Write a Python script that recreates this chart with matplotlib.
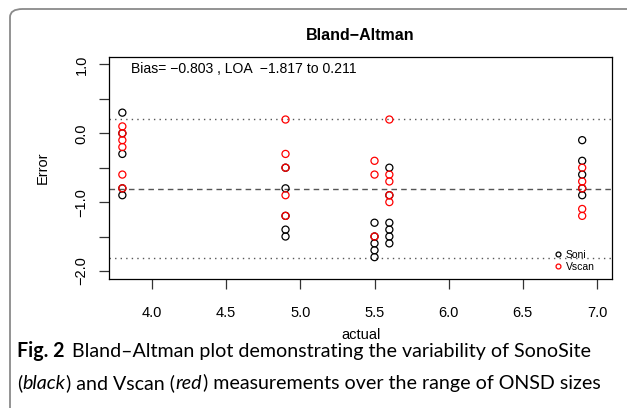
import numpy as np
import matplotlib.pyplot as plt
from matplotlib.patches import FancyBboxPatch
from matplotlib.lines import Line2D

# SonoSite (black) errors by actual ONSD
soni_x = [3.8, 3.8, 3.8, 3.8, 3.8,
          4.9, 4.9, 4.9, 4.9, 4.9,
          5.5, 5.5, 5.5, 5.5, 5.5,
          5.6, 5.6, 5.6, 5.6, 5.6, 5.6,
          6.9, 6.9, 6.9, 6.9, 6.9]
soni_y = [0.3, 0.0, -0.3, -0.8, -0.9,
          -0.5, -0.8, -1.2, -1.4, -1.5,
          -1.3, -1.5, -1.6, -1.7, -1.8,
          -0.5, -0.9, -1.3, -1.4, -1.5, -1.6,
          -0.1, -0.4, -0.6, -0.8, -0.9]

# Vscan (red) errors by actual ONSD
vscan_x = [3.8, 3.8, 3.8, 3.8, 3.8, 3.8,
           4.9, 4.9, 4.9, 4.9, 4.9,
           5.5, 5.5, 5.5,
           5.6, 5.6, 5.6, 5.6, 5.6,
           6.9, 6.9, 6.9, 6.9, 6.9]
vscan_y = [0.1, -0.1, -0.2, -0.6, -0.8, 0.0,
           0.2, -0.3, -0.5, -0.9, -1.2,
           -0.4, -0.6, -1.5,
           0.2, -0.6, -0.7, -0.9, -1.0,
           -0.5, -0.7, -0.8, -1.1, -1.2]

bias = -0.803
loa_low = -1.817
loa_high = 0.211

x_ticks = [4.0, 4.5, 5.0, 5.5, 6.0, 6.5, 7.0]
y_ticks = [-2.0, -1.5, -1.0, -0.5, 0.0, 0.5, 1.0]

plt.rcParams['font.family'] = ['Liberation Sans', 'DejaVu Sans']

W, H = 627, 408
fig = plt.figure(figsize=(W / 100, H / 100), dpi=100)

# rounded frame round the figure + caption
frame = FancyBboxPatch((10 / W, -20 / H), 700 / W, (H - 9 + 20) / H,
                       boxstyle='round,pad=0,rounding_size=0.02',
                       transform=fig.transFigure, fill=False,
                       edgecolor='#8a8a8a', lw=1.3, clip_on=False)
fig.patches.append(frame)

left, right, top, bottom = 109.3, 612, 56.7, 279.3
ax = fig.add_axes([left / W, 1 - bottom / H, (right - left) / W, (bottom - top) / H])

ax.scatter(soni_x, soni_y, s=26, facecolors='none', edgecolors='black', linewidths=0.9, zorder=3)
ax.scatter(vscan_x, vscan_y, s=26, facecolors='none', edgecolors='red', linewidths=0.9, zorder=3)

ax.axhline(bias, color='#555555', lw=1.0, ls=(0, (4, 3)), zorder=2)
ax.axhline(loa_low, color='#555555', lw=1.0, ls=(0, (1, 3)), zorder=2)
ax.axhline(loa_high, color='#555555', lw=1.0, ls=(0, (1, 3)), zorder=2)

ax.set_xlim(3.712, 7.101)
ax.set_ylim(-2.122, 1.113)

ax.set_xticks(x_ticks)
ax.set_xticklabels(['%.1f' % v for v in x_ticks])
ax.set_yticks(y_ticks)
ax.set_yticklabels([('%.1f' % v).replace('-', '\u2212') if v == int(v) else '' for v in y_ticks],
                   rotation=90, va='center')
ax.tick_params(axis='both', length=7, width=0.9, labelsize=10.5, color='#333333')
ax.tick_params(axis='x', pad=12)
ax.tick_params(axis='y', pad=8)
for sp in ax.spines.values():
    sp.set_linewidth(0.9)

ax.set_xlabel('actual', fontsize=10.5, labelpad=6)
ax.set_ylabel('Error', fontsize=10.5, labelpad=18)
ax.set_title('Bland\u2212Altman', fontsize=11.5, fontweight='bold', pad=12)

ax.text(0.043, 0.945, 'Bias= \u22120.803 , LOA  \u22121.817 to 0.211', transform=ax.transAxes,
        fontsize=10.1, va='center', ha='left')

handles = [Line2D([], [], ls='none', marker='o', mfc='none', mec='black', ms=3.5, mew=0.9),
           Line2D([], [], ls='none', marker='o', mfc='none', mec='red', ms=3.5, mew=0.9)]
ax.legend(handles, ['Soni', 'Vscan'], loc='lower right', bbox_to_anchor=(0.98, 0.0),
          frameon=False, fontsize=7.5, handlelength=0.8, handletextpad=0.3,
          labelspacing=0.2, borderpad=0.2)

# caption, drawn run by run so bold / italic parts sit inline
cap_size = 14.1
renderer = fig.canvas.get_renderer()


def caption_line(x_px, y_px, runs):
    x = x_px
    for s, style, weight, gap in runs:
        x += gap
        t = fig.text(x / W, 1 - y_px / H, s, fontsize=cap_size, family='Lato',
                     style=style, weight=weight, va='baseline', ha='left')
        x = t.get_window_extent(renderer).x1


caption_line(17, 357, [('Fig. 2', 'normal', 'bold', 0),
                       ('Bland\u2013Altman plot demonstrating the variability of SonoSite',
                        'normal', 'normal', 7)])
caption_line(17, 389, [('(', 'normal', 'normal', 0),
                       ('black', 'italic', 'normal', 0.5),
                       (') and Vscan (', 'normal', 'normal', 0.5),
                       ('red', 'italic', 'normal', 0.5),
                       (') measurements over the range of ONSD sizes', 'normal', 'normal', 0.5)])

fig.savefig('out.png', dpi=100)
